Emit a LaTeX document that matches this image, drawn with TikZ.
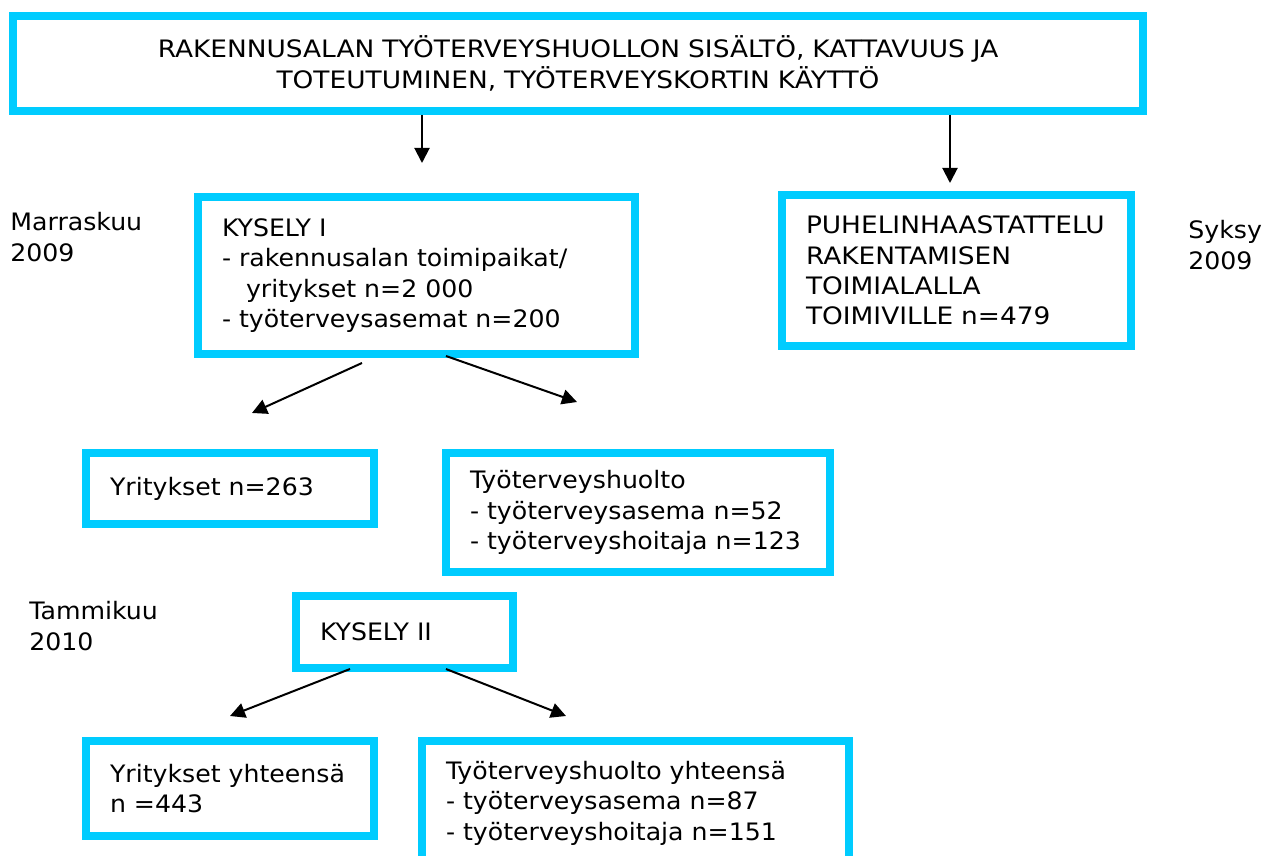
\documentclass[tikz,border=0pt]{standalone}
\usepackage{fontspec}
\setmainfont{DejaVu Sans}[FakeStretch=1.05]
\newfontfamily\capsfont{DejaVu Sans}[FakeStretch=1.1]
\usetikzlibrary{arrows.meta}
\definecolor{boxcyan}{HTML}{00CCFF}

\begin{document}
\begin{tikzpicture}[x=0.5pt, y=-0.5pt,
    font=\fontsize{12}{15.2}\selectfont,
    box/.style={draw=boxcyan, line width=4pt, inner xsep=12pt, align=left, anchor=north west},
    arr/.style={line width=1pt, -{Triangle[length=7.5pt, width=7.5pt]}},
    when/.style={anchor=north west, inner sep=0pt, align=left}]
    \useasboundingbox (0,0) rectangle (1266,856);
    \node[box, align=center, text width=541pt, minimum height=47.5pt, font=\capsfont\fontsize{12}{15.2}\selectfont] (top) at (9,12)
        {RAKENNUSALAN TYÖTERVEYSHUOLLON SISÄLTÖ, KATTAVUUS JA\\TOTEUTUMINEN, TYÖTERVEYSKORTIN KÄYTTÖ};
    \node[box, text width=194.5pt, minimum height=78.5pt] (kys1) at (194,193)
        {KYSELY I\\- rakennusalan toimipaikat/\\\hspace*{12pt}yritykset n=2 000\\- työterveysasemat n=200};
    \node[box, text width=150.5pt, minimum height=75.5pt, font=\capsfont\fontsize{12}{15.2}\selectfont] (puh) at (778,191)
        {PUHELINHAASTATTELU\\RAKENTAMISEN\\TOIMIALALLA\\TOIMIVILLE n=479};
    \node[box, text width=120pt, minimum height=35.5pt] (yr1) at (82,449) {Yritykset n=263};
    \node[box, text width=168pt, minimum height=59.5pt] (tt1) at (442,449)
        {Työterveyshuolto\\- työterveysasema n=52\\- työterveyshoitaja n=123};
    \node[box, text width=84.5pt, minimum height=36pt] (kys2) at (292,592) {KYSELY II};
    \node[box, text width=120pt, minimum height=47.5pt] (yr2) at (82,737) {Yritykset yhteensä\\n =443};
    \node[box, text width=189.5pt, minimum height=62pt] (tt2) at (418,737)
        {Työterveyshuolto yhteensä\\- työterveysasema n=87\\- työterveyshoitaja n=151};
    \node[when] (marras) at (10,212) {Marraskuu\\2009};
    \node[when] (syksy) at (1188,220) {Syksy\\2009};
    \node[when] (tammi) at (29,601) {Tammikuu\\2010};
    \draw[arr] ([xshift=2.75pt]kys1.north |- top.south) -- ([xshift=2.75pt, yshift=15pt]kys1.north);
    \draw[arr] ([xshift=-3.25pt]puh.north |- top.south) -- ([xshift=-3.25pt, yshift=4pt]puh.north);
    \draw[arr] ([xshift=-27.25pt, yshift=-2.5pt]kys1.south) -- ([xshift=11pt, yshift=18pt]yr1.north);
    \draw[arr] ([xshift=14.75pt, yshift=1pt]kys1.south) -- ([xshift=-30.5pt, yshift=23.5pt]tt1.north);
    \draw[arr] ([xshift=-27.25pt, yshift=1.5pt]kys2.south) -- ([yshift=10.5pt]yr2.north);
    \draw[arr] ([xshift=20.75pt, yshift=1.5pt]kys2.south) -- ([xshift=-34.75pt, yshift=10.5pt]tt2.north);
\end{tikzpicture}
\end{document}
